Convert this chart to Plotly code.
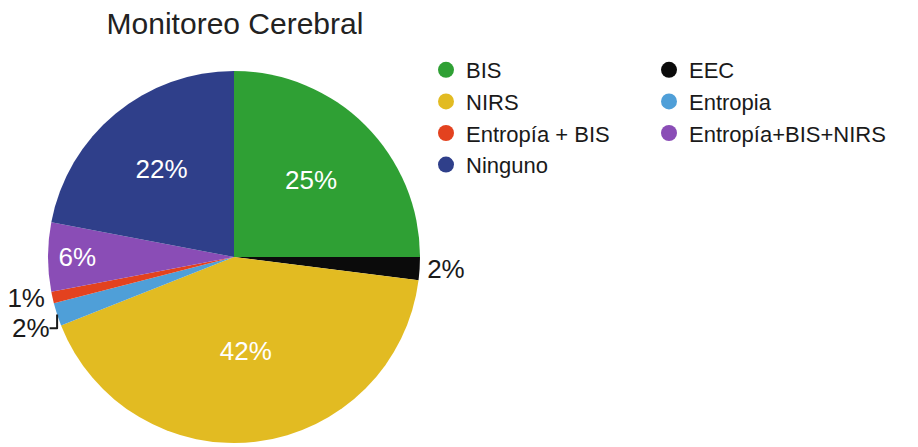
import plotly.graph_objects as go

# Data (clockwise from 12 o'clock)
labels = ["BIS", "EEC", "NIRS", "Entropia", "Entropía + BIS", "Entropía+BIS+NIRS", "Ninguno"]
values = [25, 2, 42, 2, 1, 6, 22]
colors = ["#2fa034", "#0b0b0b", "#e2bb22", "#4f9fd8", "#e3421f", "#8a4db6", "#2f3f8a"]
text_positions = ["inside", "outside", "inside", "outside", "outside", "inside", "inside"]
legend_column = [1, 2, 1, 2, 1, 2, 1]
title_text = "Monitoreo Cerebral"

W, H = 918, 447
OFF = 8  # page body margin offset
FONT = "Liberation Sans, Arial, Helvetica, sans-serif"


def px_x(x):
    return (x - OFF) / W


def px_y(y):
    return 1 - (y - OFF) / H


fig = go.Figure()

fig.add_trace(go.Pie(
    labels=labels,
    values=values,
    sort=False,
    direction="clockwise",
    rotation=0,
    marker=dict(colors=colors, line=dict(width=0)),
    textinfo="percent",
    textposition=text_positions,
    insidetextorientation="horizontal",
    insidetextfont=dict(family=FONT, size=26, color="white"),
    outsidetextfont=dict(family=FONT, size=26, color="#1a1a1a"),
    showlegend=False,
    hoverinfo="label+percent",
    domain=dict(x=[px_x(48), px_x(420)], y=[px_y(443), px_y(71)]),
))

# Legend entries with circular markers, split into two columns (two legends)
for lab, col, lc in zip(labels, colors, legend_column):
    fig.add_trace(go.Scatter(
        x=[None], y=[None], mode="markers", name=lab,
        marker=dict(symbol="circle", size=16, color=col),
        showlegend=True, hoverinfo="skip",
        legend="legend" if lc == 1 else "legend2",
    ))

legend_common = dict(
    orientation="v",
    xanchor="left", yanchor="top",
    font=dict(family=FONT, size=22, color="#1a1a1a"),
    bgcolor="rgba(0,0,0,0)",
    traceorder="normal",
    borderwidth=0,
)

fig.update_layout(
    width=W, height=H,
    margin=dict(l=0, r=0, t=0, b=0, autoexpand=False),
    paper_bgcolor="white",
    plot_bgcolor="white",
    font=dict(family=FONT, color="#1a1a1a"),
    title=dict(text=title_text, x=px_x(235), xanchor="center", y=px_y(23), yanchor="middle",
               font=dict(family=FONT, size=30, color="#222222")),
    xaxis=dict(visible=False),
    yaxis=dict(visible=False),
    legend=dict(x=px_x(426), y=px_y(49), **legend_common),
    legend2=dict(x=px_x(649), y=px_y(49), **legend_common),
)

fig.write_html("out.html")
